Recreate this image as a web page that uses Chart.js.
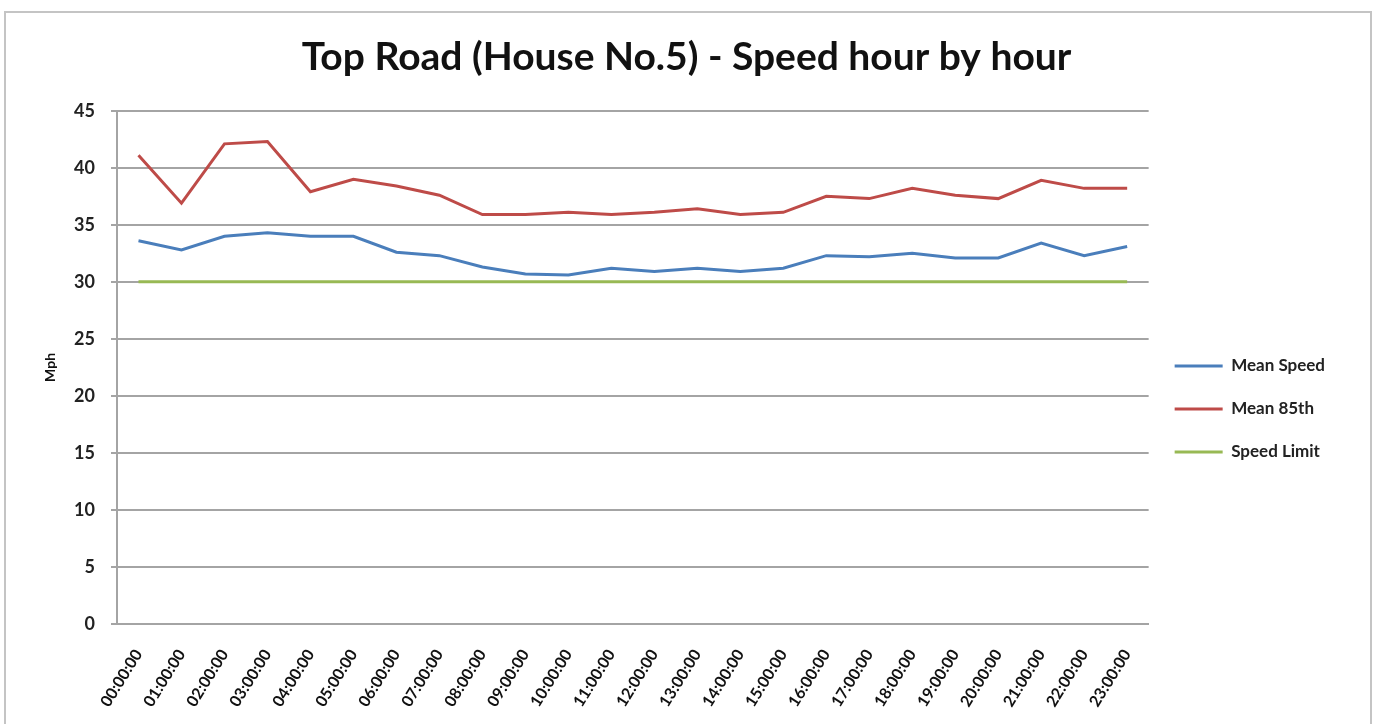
<!DOCTYPE html>
<html>
<head>
<meta charset="utf-8">
<script src="https://cdn.jsdelivr.net/npm/chart.js@4"></script>
<style>
  html,body{margin:0;padding:0;background:#fff;overflow:hidden;}
  #wrap{position:absolute;left:4px;top:11px;width:1364px;height:716px;border:2px solid #c4c4c4;background:#fff;}
</style>
</head>
<body>
<div id="wrap"><canvas id="c"></canvas></div>
<script>
// hourly values
const hours = ["00:00:00","01:00:00","02:00:00","03:00:00","04:00:00","05:00:00","06:00:00","07:00:00",
  "08:00:00","09:00:00","10:00:00","11:00:00","12:00:00","13:00:00","14:00:00","15:00:00",
  "16:00:00","17:00:00","18:00:00","19:00:00","20:00:00","21:00:00","22:00:00","23:00:00"];
const meanSpeed = [33.6,32.8,34.0,34.3,34.0,34.0,32.6,32.3,31.3,30.7,30.6,31.2,
  30.9,31.2,30.9,31.2,32.3,32.2,32.5,32.1,32.1,33.4,32.3,33.1];
const mean85th = [41.1,36.9,42.1,42.3,37.9,39.0,38.4,37.6,35.9,35.9,36.1,35.9,
  36.1,36.4,35.9,36.1,37.5,37.3,38.2,37.6,37.3,38.9,38.2,38.2];
const speedLimit = [30,30,30,30,30,30,30,30,30,30,30,30,30,30,30,30,30,30,30,30,30,30,30,30];
const yTicks = [0,5,10,15,20,25,30,35,40,45];

const FONT = "Lato, 'Open Sans', sans-serif";
const grid = '#a4a4a4';

new Chart(document.getElementById('c').getContext('2d'), {
  type: 'line',
  data: {
    labels: hours,
    datasets: [
      {label:'Mean Speed', data:meanSpeed, borderColor:'#4a7ebb', backgroundColor:'#4a7ebb', borderWidth:3},
      {label:'Mean 85th', data:mean85th, borderColor:'#be4b48', backgroundColor:'#be4b48', borderWidth:3},
      {label:'Speed Limit', data:speedLimit, borderColor:'#98b954', backgroundColor:'#98b954', borderWidth:3}
    ]
  },
  options: {
    responsive:true, maintainAspectRatio:false, animation:false,
    elements:{point:{radius:0}, line:{tension:0}},
    layout:{padding:{left:32, right:35, top:0, bottom:0}},
    plugins:{
      title:{display:true, text:'Top Road (House No.5) - Speed hour by hour', color:'#111',
        font:{family:FONT, size:39, weight:'bold'}, padding:{top:21, bottom:30}},
      legend:{position:'right',
        // blank title only pushes the entries down to where they sit in the picture
        title:{display:true, text:' ', font:{size:10}, padding:{top:64, bottom:0}},
        labels:{usePointStyle:true, pointStyle:'line', pointStyleWidth:48, padding:26,
          color:'#222', font:{family:FONT, size:17, weight:'bold'}}},
      tooltip:{enabled:false}
    },
    scales:{
      x:{
        offset:true,
        grid:{display:false},
        border:{display:true, color:grid, width:2},
        ticks:{autoSkip:false, minRotation:58, maxRotation:58, padding:14, color:'#111',
          font:{family:FONT, size:16, weight:'bold'}},
        afterFit:s=>{s.height=105;}
      },
      y:{
        min:0, max:45,
        afterBuildTicks:s=>{s.ticks=yTicks.map(v=>({value:v}));},
        grid:{color:grid, lineWidth:2, tickLength:6, tickColor:grid},
        border:{display:true, color:grid, width:2},
        ticks:{padding:16, color:'#222', font:{family:FONT, size:18, weight:'bold'}},
        title:{display:true, text:'Mph', color:'#111', font:{family:FONT, size:14, weight:'bold'}},
        afterFit:s=>{s.width=79;}
      }
    }
  }
});
</script>
</body>
</html>
